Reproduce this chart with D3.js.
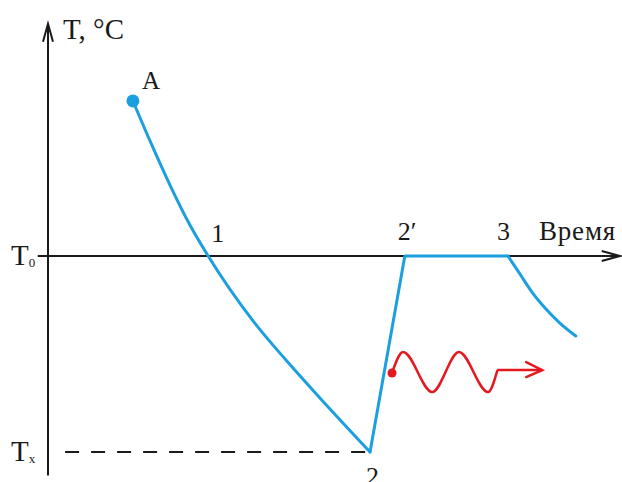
<!DOCTYPE html>
<html><head><meta charset="utf-8">
<script src="https://cdn.jsdelivr.net/npm/d3@7"></script>
<style>
html,body{margin:0;padding:0;background:#fff;}
svg{display:block;}
</style></head>
<body>
<svg id="c" width="622" height="482"></svg>
<script>
// time units (0..100), temperature units (T0 = 0, Tx = -10)
const coolTime = [14.9, 17.9, 21.4, 24.9, 28.1, 36.0, 41.9, 47.7, 56.5];
const coolTemp = [7.91, 5.87, 3.62, 1.58, 0, -3.32, -5.36, -7.24, -10];
const jumpTime = [56.5, 62.6, 80.7];
const jumpTemp = [-10, 0, 0];
const tailTime = [80.7, 82.8, 84.9, 87.2, 89.8, 92.6];
const tailTemp = [0, -0.92, -1.84, -2.65, -3.42, -4.08];
const waveTime = [60.35, 62.3, 67.4, 72.1, 77.2, 78.8];
const waveTemp = [-5.97, -4.9, -6.94, -4.9, -6.94, -5.87];
const arrowTime = [78.8, 86.7];
const arrowTemp = [-5.82, -5.82];
const pointLabels = ["A", "1", "2", "2′", "3"];
const pointTime = [14.9, 28.1, 56.5, 62.6, 80.7];
const pointTemp = [7.91, 0, -10, 0, 0];
const yLabels = ["T", "T"];
const ySubs = ["0", "x"];
const yLevels = [0, -10];

const FONT = "'Liberation Serif', 'Times New Roman', 'DejaVu Serif', serif";
const svg = d3.select("#c").attr("font-family", FONT);
const x = d3.scaleLinear().domain([0, 100]).range([48, 618]);
const y = d3.scaleLinear().domain([-10, 0]).range([452, 256]);
const blue = "#1c9fe0", red = "#e3191f", black = "#1a1a1a";

const zip = (a, b) => a.map((v, i) => [v, b[i]]);

// axes
svg.append("line").attr("x1", x(-1.8)).attr("x2", x(100.3)).attr("y1", y(0)).attr("y2", y(0))
  .attr("stroke", black).attr("stroke-width", 2);
svg.append("line").attr("x1", x(0)).attr("x2", x(0)).attr("y1", y(-11.2)).attr("y2", y(11.85))
  .attr("stroke", black).attr("stroke-width", 2);
// arrowheads
const ln = d3.line();
svg.append("path").attr("d", ln([[x(100.3) - 18, y(0) - 5], [x(100.3), y(0)], [x(100.3) - 18, y(0) + 5]]))
  .attr("fill", "none").attr("stroke", black).attr("stroke-width", 2);
svg.append("path").attr("d", ln([[x(0) - 5, y(11.85) + 18], [x(0), y(11.85)], [x(0) + 5, y(11.85) + 18]]))
  .attr("fill", "none").attr("stroke", black).attr("stroke-width", 2);

// dashed Tx line
svg.append("line").attr("x1", x(3)).attr("x2", x(56.5)).attr("y1", y(-10)).attr("y2", y(-10))
  .attr("stroke", black).attr("stroke-width", 2).attr("stroke-dasharray", "14,12");

// curves
const smooth = d3.line().x(d => x(d[0])).y(d => y(d[1])).curve(d3.curveMonotoneX);
const straight = d3.line().x(d => x(d[0])).y(d => y(d[1]));
svg.append("path").attr("d", smooth(zip(coolTime, coolTemp)))
  .attr("fill", "none").attr("stroke", blue).attr("stroke-width", 3).attr("stroke-linecap", "round");
svg.append("path").attr("d", straight(zip(jumpTime, jumpTemp)))
  .attr("fill", "none").attr("stroke", blue).attr("stroke-width", 3).attr("stroke-linejoin", "round").attr("stroke-linecap", "round");
svg.append("path").attr("d", smooth(zip(tailTime, tailTemp)))
  .attr("fill", "none").attr("stroke", blue).attr("stroke-width", 3).attr("stroke-linecap", "round");
svg.append("circle").attr("cx", x(pointTime[0])).attr("cy", y(pointTemp[0])).attr("r", 6.5).attr("fill", blue);

// red wave
svg.append("path").attr("d", smooth(zip(waveTime, waveTemp)))
  .attr("fill", "none").attr("stroke", red).attr("stroke-width", 2.5).attr("stroke-linecap", "round");
svg.append("path").attr("d", straight(zip(arrowTime, arrowTemp)))
  .attr("fill", "none").attr("stroke", red).attr("stroke-width", 2.5);
const ax = x(arrowTime[1]), ay = y(arrowTemp[1]);
svg.append("path").attr("d", ln([[ax - 16, ay - 8], [ax, ay], [ax - 16, ay + 7]]))
  .attr("fill", "none").attr("stroke", red).attr("stroke-width", 2.5).attr("stroke-linecap", "round");
svg.append("circle").attr("cx", x(waveTime[0])).attr("cy", y(waveTemp[0])).attr("r", 4.5).attr("fill", red);

// labels
const txt = (sel) => sel.attr("fill", black).attr("font-family", FONT);
txt(svg.append("text")).attr("x", 63).attr("y", 39).attr("font-size", 29).text("T, °C");
txt(svg.append("text")).attr("x", 539).attr("y", 240).attr("font-size", 27).attr("letter-spacing", 0.8).text("Время");
const lblOff = [[9, -12], [3, -14], [-4, 33], [-7, -16], [-11, -16]];
pointLabels.forEach((t, i) => {
  txt(svg.append("text")).attr("x", x(pointTime[i]) + lblOff[i][0]).attr("y", y(pointTemp[i]) + lblOff[i][1])
    .attr("font-size", i === 0 ? 25 : 26).text(t);
});
yLabels.forEach((t, i) => {
  const g = txt(svg.append("text")).attr("x", 11).attr("y", y(yLevels[i]) + 9).attr("font-size", 29);
  g.append("tspan").text(t);
  g.append("tspan").attr("font-size", 13).attr("dy", 2).text(ySubs[i]);
});
</script>
</body></html>
